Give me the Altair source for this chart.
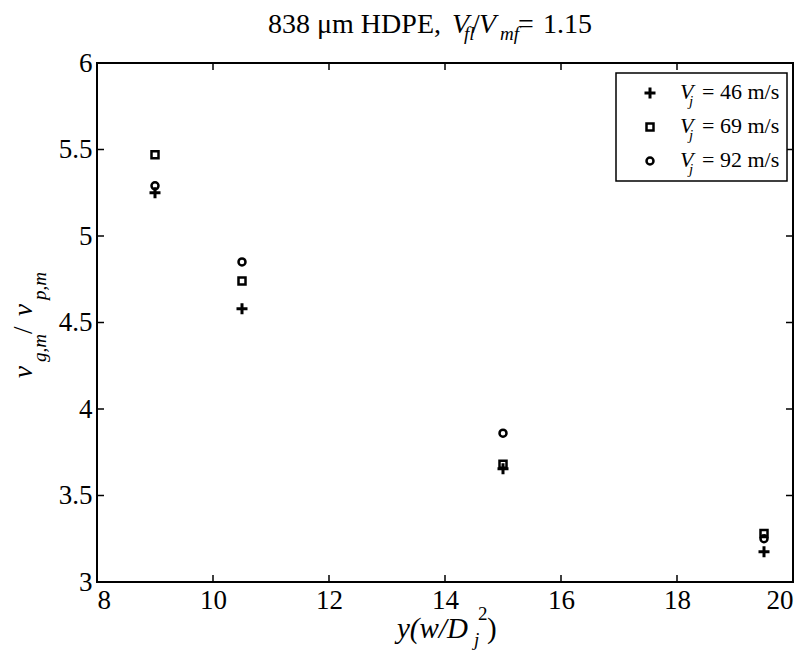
import altair as alt
import pandas as pd

# ---- data ----
x_vals = [9, 10.5, 15, 19.5]
v46 = [5.25, 4.58, 3.655, 3.175]
v69 = [5.47, 4.74, 3.68, 3.28]
v92 = [5.29, 4.85, 3.86, 3.25]
x_ticks = [8, 10, 12, 14, 16, 18, 20]
y_ticks = [3, 3.5, 4, 4.5, 5, 5.5, 6]
legend_values = ["= 46 m/s", "= 69 m/s", "= 92 m/s"]

W, H = 696, 519
FONT = "Liberation Serif"
PLUS = "M-1,0H1M0,-1V1"
one = pd.DataFrame({"a": [0]})

xs = alt.Scale(domain=[8, 20], nice=False, zero=False)
ys = alt.Scale(domain=[3, 6], nice=False, zero=False)

x_axis = alt.Axis(values=x_ticks, format="d", labelFont=FONT, labelFontSize=27,
                  labelColor="black", labelPadding=5, ticks=False, domain=False,
                  grid=False, title=None, labelBaseline="top")
y_axis = alt.Axis(values=y_ticks, format="~g", labelFont=FONT, labelFontSize=27,
                  labelColor="black", labelPadding=5, ticks=False, domain=False,
                  grid=False, title=None)

X = lambda f: alt.X(f, scale=xs, axis=x_axis)
Y = lambda f: alt.Y(f, scale=ys, axis=y_axis)


def series(vals, shape, size, sw):
    df = pd.DataFrame({"x": x_vals, "y": vals})
    return alt.Chart(df).mark_point(shape=shape, size=size, filled=False, stroke="black",
                                    strokeWidth=sw, opacity=1).encode(
        x=X("x:Q"), y=Y("y:Q"))


def txt(s, x, y, size=27, italic=False, angle=0, align="left"):
    return alt.Chart(one).mark_text(text=s, font=FONT, fontSize=size,
                                    fontStyle="italic" if italic else "normal",
                                    align=align, baseline="alphabetic", angle=angle,
                                    color="black").encode(x=alt.value(x), y=alt.value(y))


def legend_marker(shape, size, sw, y):
    return alt.Chart(one).mark_point(shape=shape, size=size, filled=False, stroke="black",
                                     strokeWidth=sw, opacity=1).encode(
        x=alt.value(553), y=alt.value(y))


frame = alt.Chart(one).mark_rect(fill="white", stroke="black", strokeWidth=2).encode(
    x=alt.value(0), x2=alt.value(W), y=alt.value(0), y2=alt.value(H))

xt = pd.DataFrame({"t": x_ticks})
yt = pd.DataFrame({"t": y_ticks})
tick_style = dict(color="black", strokeWidth=1.5)
ticks = [
    alt.Chart(xt).mark_rule(**tick_style).encode(x=X("t:Q"), y=alt.value(H), y2=alt.value(H - 7)),
    alt.Chart(xt).mark_rule(**tick_style).encode(x=X("t:Q"), y=alt.value(0), y2=alt.value(7)),
    alt.Chart(yt).mark_rule(**tick_style).encode(y=Y("t:Q"), x=alt.value(0), x2=alt.value(7)),
    alt.Chart(yt).mark_rule(**tick_style).encode(y=Y("t:Q"), x=alt.value(W), x2=alt.value(W - 7)),
]

points = [
    series(v46, PLUS, 121, 3),
    series(v69, "square", 49, 2.5),
    series(v92, "circle", 49, 2.5),
]

legend_box = alt.Chart(one).mark_rect(fill="white", stroke="black", strokeWidth=1.5).encode(
    x=alt.value(519), x2=alt.value(690), y=alt.value(10), y2=alt.value(118))
rows = [30, 64, 98]
legend = [legend_box,
          legend_marker(PLUS, 121, 3, rows[0]),
          legend_marker("square", 49, 2.5, rows[1]),
          legend_marker("circle", 49, 2.5, rows[2])]
for r, lab in zip(rows, legend_values):
    legend += [txt("V", 583, r + 6, 22, True), txt("j", 592, r + 13, 15, True),
               txt(lab, 605, r + 6, 22)]

title = [
    txt("838 μm HDPE,", 344, -30, 28, align="right"),
    txt("V", 355, -30, 28, True),
    txt("fl", 367, -23, 19, True),
    txt("/", 375, -30, 28),
    txt("V", 382, -30, 28, True),
    txt("mf", 403, -23, 19, True),
    txt("=", 421, -30, 28),
    txt("1.15", 446, -30, 28),
]

ytitle = [
    txt("v", -65, 315, 27, True, 270),
    txt("g,m", -51, 299, 19, True, 270),
    txt("/", -65, 271, 27, False, 270),
    txt("v", -65, 253, 27, True, 270),
    txt("p,m", -51, 237, 19, True, 270),
]

xtitle = [
    txt("y(w/D", 300, 575, 29, True),
    txt("j", 377, 583, 19, True),
    txt("2", 381, 557, 19),
    txt(")", 390, 575, 29),
]

chart = alt.layer(frame, *ticks, *points, *legend, *title, *ytitle, *xtitle).properties(
    width=W, height=H,
    padding={"left": 89, "top": 55, "right": 8, "bottom": 74},
    autosize=alt.AutoSizeParams(type="none"),
).configure_view(stroke=None).configure(background="white")

chart.save("out.html", embed_options={"renderer": "svg", "actions": False})
